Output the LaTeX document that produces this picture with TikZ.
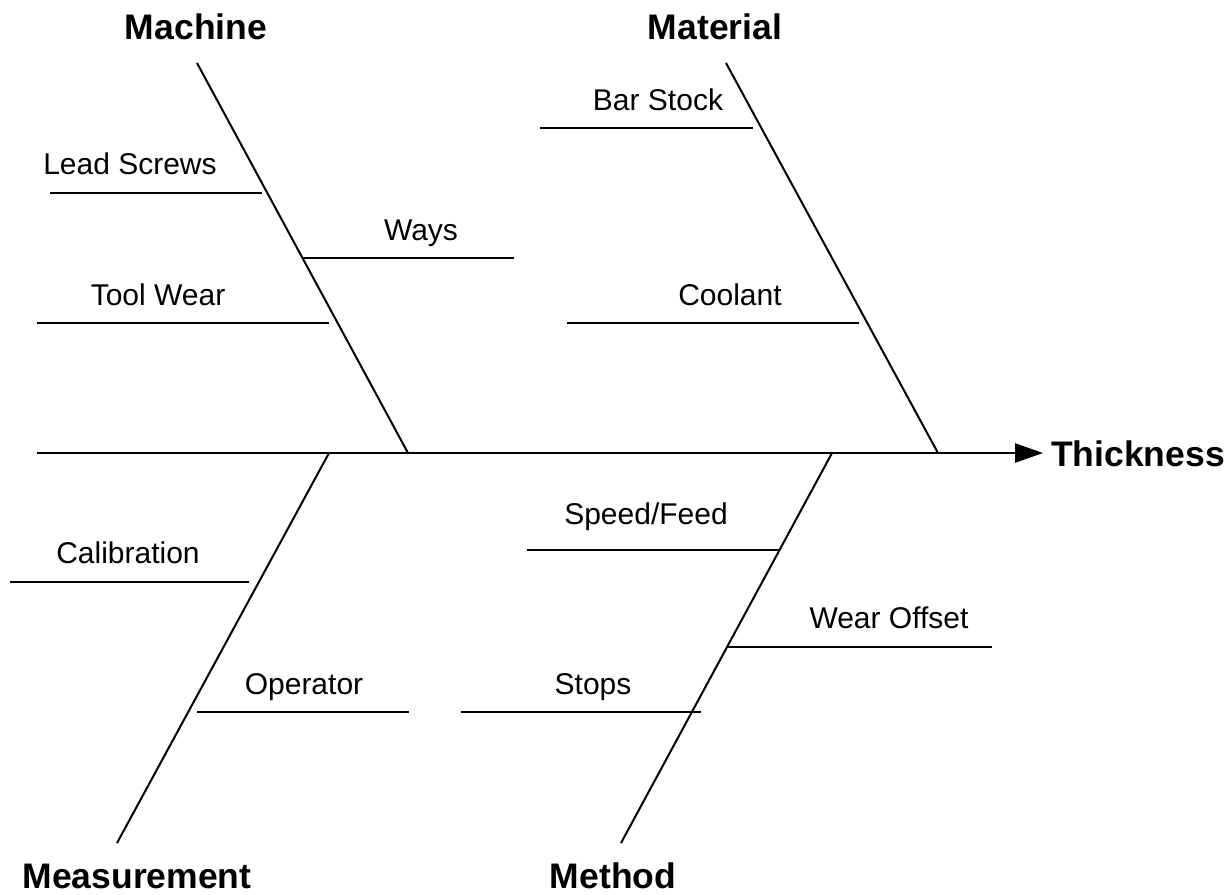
\documentclass[tikz,border=0pt]{standalone}
\usepackage{fontspec}
\setmainfont{Liberation Sans}
\usetikzlibrary{arrows.meta,calc,positioning}
\tikzset{
  cause/.style={font=\bfseries\fontsize{35.5}{40}\selectfont, inner sep=0pt, anchor=base},
  item/.style={font=\fontsize{30}{34}\selectfont, inner sep=0pt, anchor=base},
  bone/.style={line width=2pt},
  twig/.style={line width=2.2pt}
}
\begin{document}
\begin{tikzpicture}[x=1pt,y=-1pt]
  \useasboundingbox (0,0) rectangle (1231,894);
  % spine and effect
  \coordinate (tail) at (37,453);
  \node[cause, anchor=base west] (effect) at (1051,466) {Thickness};
  \draw[line width=2.6pt, -{Triangle[length=28pt,width=19pt]}] (tail) -- ([xshift=-8pt]effect.west |- tail);
  % cause labels
  \node[cause] (machine) at (196,39) {Machine};
  \node[cause] (material) at (715,39) {Material};
  \node[cause] (measure) at (137,888) {Measurement};
  \node[cause] (method) at (613,888) {Method};
  % main bones
  \coordinate (mc1) at (197,63);   \coordinate (mc2) at (408,453);
  \coordinate (mt1) at (726,63);   \coordinate (mt2) at (938,453);
  \coordinate (ms1) at (117,843);  \coordinate (ms2) at (329,453);
  \coordinate (me1) at (621,843);  \coordinate (me2) at (832,453);
  \draw[bone] (mc1) -- (mc2);
  \draw[bone] (mt1) -- (mt2);
  \draw[bone] (ms1) -- (ms2);
  \draw[bone] (me1) -- (me2);
  % machine
  \node[item] (lead) at (130,174) {Lead Screws};
  \draw[twig] (50,193) -- (262,193);
  \node[item] (ways) at (421,240) {Ways};
  \draw[twig] (303,258) -- (514,258);
  \node[item] (tool) at (158,305) {Tool Wear};
  \draw[twig] (37,323) -- (329,323);
  % material
  \node[item] (bar) at (658,110) {Bar Stock};
  \draw[twig] (540,128) -- (753,128);
  \node[item] (cool) at (730,305) {Coolant};
  \draw[twig] (567,323) -- (859,323);
  % measurement
  \node[item] (calib) at (128,563) {Calibration};
  \draw[twig] (10,582) -- (249,582);
  \node[item] (oper) at (304,694) {Operator};
  \draw[twig] (197,712) -- (409,712);
  % method
  \node[item] (speed) at (646,524) {Speed/Feed};
  \draw[twig] (527,550) -- (779,550);
  \node[item] (wear) at (889,628) {Wear Offset};
  \draw[twig] (727,647) -- (992,647);
  \node[item] (stops) at (593,694) {Stops};
  \draw[twig] (461,712) -- (701,712);
\end{tikzpicture}
\end{document}
